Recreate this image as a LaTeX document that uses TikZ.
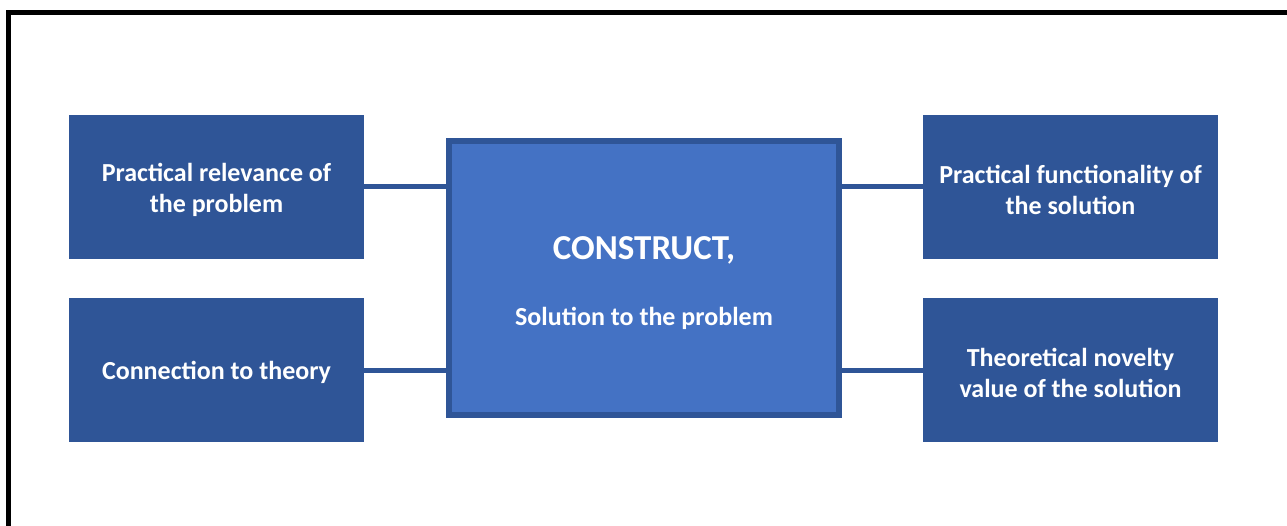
\documentclass[tikz,border=0pt]{standalone}
\usepackage{fontspec}
\setmainfont{Carlito}
\begin{document}
\begin{tikzpicture}[x=1pt,y=-1pt,
  sidebox/.style={fill=dark, minimum width=295pt, minimum height=144pt, inner sep=0pt},
  boxtext/.style={text=white, inner sep=0pt, yshift=-2.5pt, align=center,
    font=\fontsize{26}{31}\selectfont\bfseries},
  link/.style={draw=dark, line width=5pt},
]
\definecolor{dark}{HTML}{2F5597}
\definecolor{mid}{HTML}{4472C4}
\useasboundingbox (0,0) rectangle (1287,526);
\clip (0,0) rectangle (1287,526);
% outer frame (runs past the right and bottom edges)
\draw[line width=5pt] (8.5,540) -- (8.5,13) -- (1300,13);

% central construct box
\node[draw=dark, fill=mid, line width=6pt, minimum width=390pt, minimum height=274pt,
      inner sep=0pt] (c) at (644,278) {};
\node[boxtext, font=\fontsize{35}{40}\selectfont\bfseries] (ct) at (644,248) {CONSTRUCT,};
\node[boxtext] (cs) at (644,316) {Solution to the problem};

% side boxes
\node[sidebox] (l1) at (216.5,187) {};
\node[sidebox] (l2) at (216.5,370) {};
\node[sidebox] (r1) at (1070.5,187) {};
\node[sidebox] (r2) at (1070.5,370) {};
\node[boxtext] (l1t) at (l1) {Practical relevance of\\the problem};
\node[boxtext] (l2t) at (l2) {Connection to theory};
\node[boxtext] (r1t) at (r1) {Practical functionality of\\the solution};
\node[boxtext] (r2t) at (r2) {Theoretical novelty\\value of the solution};

% connectors
\draw[link] (l1.east) -- (c.west |- l1.east);
\draw[link] (l2.east) -- (c.west |- l2.east);
\draw[link] (c.east |- r1.west) -- (r1.west);
\draw[link] (c.east |- r2.west) -- (r2.west);
\end{tikzpicture}
\end{document}
